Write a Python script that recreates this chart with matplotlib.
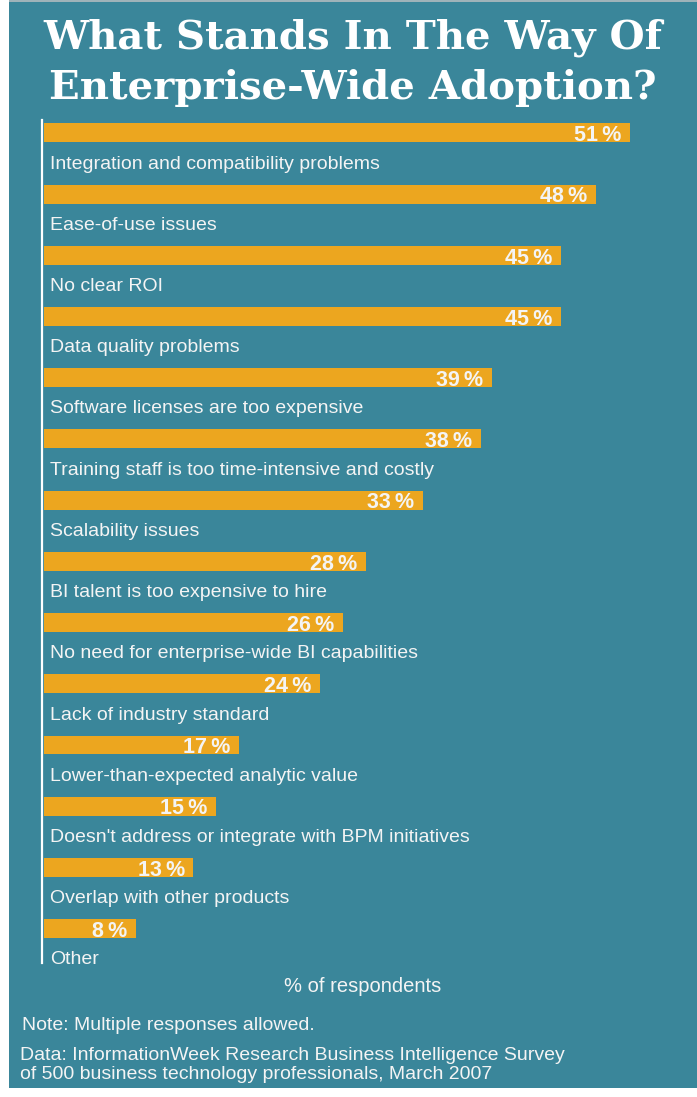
import matplotlib
matplotlib.use("Agg")
import matplotlib.pyplot as plt
from matplotlib.patches import Rectangle

categories = [
    "Integration and compatibility problems",
    "Ease-of-use issues",
    "No clear ROI",
    "Data quality problems",
    "Software licenses are too expensive",
    "Training staff is too time-intensive and costly",
    "Scalability issues",
    "BI talent is too expensive to hire",
    "No need for enterprise-wide BI capabilities",
    "Lack of industry standard",
    "Lower-than-expected analytic value",
    "Doesn't address or integrate with BPM initiatives",
    "Overlap with other products",
    "Other",
]
values = [51, 48, 45, 45, 39, 38, 33, 28, 26, 24, 17, 15, 13, 8]

TEAL = '#3a869a'
ORANGE = '#eca61f'
TXT = '#f4f4f4'
W, H = 697, 1097

fig = plt.figure(figsize=(W / 100, H / 100), dpi=100)
fig.patch.set_facecolor('white')

# teal panel with thin white border on the left / bottom
fig.patches.append(Rectangle((9 / W, 1 - 1088 / H), (W - 9) / W, (1088 - 2) / H,
                             transform=fig.transFigure, facecolor=TEAL,
                             edgecolor='none', zorder=0))
fig.patches.append(Rectangle((9 / W, 1 - 2 / H), (W - 9) / W, 2 / H,
                             transform=fig.transFigure, facecolor='#9fb3b9',
                             edgecolor='none', zorder=0))

fig.text(353 / W, 1 - 38 / H, "What Stands In The Way Of", ha='center', va='center',
         color='white', fontsize=29, fontweight='bold', family='DejaVu Serif')
fig.text(353 / W, 1 - 88 / H, "Enterprise-Wide Adoption?", ha='center', va='center',
         color='white', fontsize=29, fontweight='bold', family='DejaVu Serif')

# chart axes: left edge at the white rule, ~11.5 px per percent
ax_left, ax_top, ax_bot = 42, 120, 963
px_per_pct = 11.49
ax = fig.add_axes([ax_left / W, 1 - ax_bot / H, (W - ax_left) / W, (ax_bot - ax_top) / H])
ax.set_zorder(2)
ax.set_facecolor('none')
ax.set_xlim(-2 / px_per_pct, (W - ax_left - 2) / px_per_pct)
ax.set_ylim(13.562, -0.212)

ypos = list(range(len(values)))
ax.barh(ypos, values, height=0.31, color=ORANGE, left=0)

for y, v, c in zip(ypos, values, categories):
    ax.text(v - 0.75, y + 0.135, f"{v}\u2009%", ha='right', va='baseline',
            color=TXT, fontsize=15.5, fontweight='bold', family='Liberation Sans')
    ax.text(0.55, y + 0.51, c, ha='left', va='center', color=TXT,
            fontsize=14, family='Liberation Sans')

for s in ['top', 'right', 'bottom']:
    ax.spines[s].set_visible(False)
ax.spines['left'].set_color('white')
ax.spines['left'].set_linewidth(1.6)
ax.set_xticks([])
ax.set_yticks([])

fig.text(363 / W, 1 - 987 / H, "% of respondents", ha='center', va='center',
         color=TXT, fontsize=14.5, family='Liberation Sans')
fig.text(22 / W, 1 - 1026 / H, "Note: Multiple responses allowed.", ha='left', va='center',
         color=TXT, fontsize=14, family='Liberation Sans')
fig.text(20 / W, 1 - 1065 / H,
         "Data: InformationWeek Research Business Intelligence Survey\n"
         "of 500 business technology professionals, March 2007",
         ha='left', va='center', color=TXT, fontsize=14, linespacing=1.2,
         family='Liberation Sans')

fig.savefig('out.png', dpi=100, facecolor=fig.get_facecolor())
